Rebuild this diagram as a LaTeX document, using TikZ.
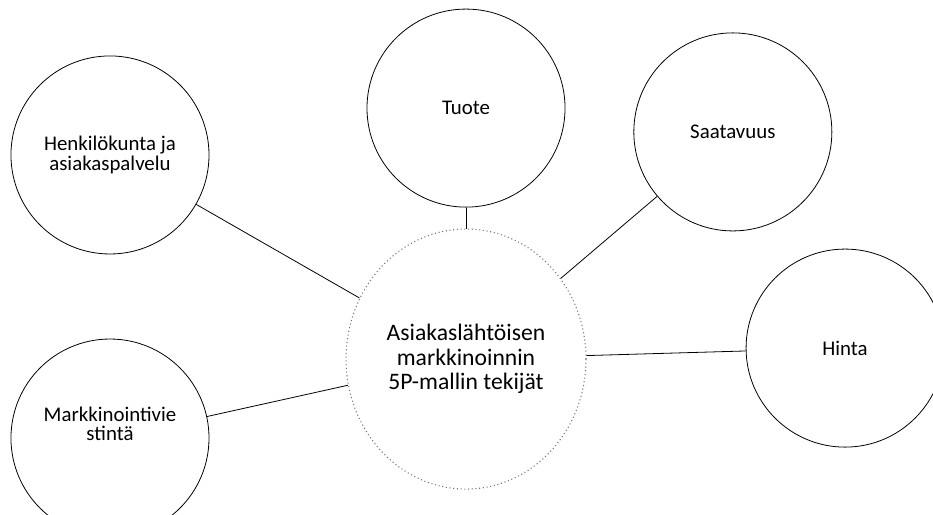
\documentclass[tikz,border=0pt]{standalone}
\usepackage{fontspec}
\setmainfont{Carlito}
\usetikzlibrary{shapes.geometric}

\begin{document}
\begin{tikzpicture}[
  fac/.style={circle,draw=black,line width=0.6pt,minimum size=5.24cm,inner sep=0pt,
    align=center,font=\fontsize{15.7}{15}\selectfont},
  hub/.style={ellipse,draw=black!55,dotted,line width=0.8pt,minimum width=6.35cm,
    minimum height=6.88cm,inner sep=0pt,align=center,font=\fontsize{17.8}{18.4}\selectfont},
  lbl/.style={align=center,font=\fontsize{15.7}{14.5}\selectfont},
  ln/.style={black,line width=0.6pt},
  ]
  \useasboundingbox (0,0) rectangle (24.686,-13.626);

  \node at (12.33,-9.50) [hub] (hub) {Asiakaslähtöisen\\markkinoinnin\\5P-mallin tekijät};

  \node at (12.33,-2.86) [fac] (tuote) {Tuote};
  \node at (19.39,-3.49) [fac] (saat) {Saatavuus};
  \node at (22.36,-9.21) [fac] (hinta) {Hinta};
  \node at (2.91,-4.10) [fac] (henk) {Henkilökunta ja\\asiakaspalvelu};
  \node at (2.91,-11.59) [fac,label={[lbl,yshift=0.37cm]center:Markkinointivie\\stintä}] (mark) {};

  \draw (tuote) edge [ln] (hub);
  \draw (saat) edge [ln] (hub);
  \draw (hinta) edge [ln] (hub);
  \draw (henk) edge [ln] (hub);
  \draw (mark) edge [ln] (hub);
\end{tikzpicture}
\end{document}
